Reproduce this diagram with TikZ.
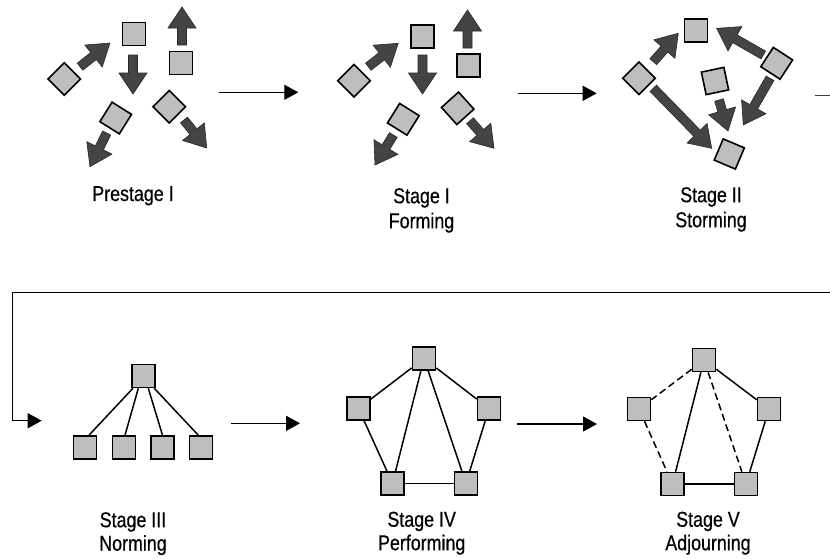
\documentclass[tikz,border=0pt]{standalone}
\usepackage{fontspec}
\setmainfont{Liberation Sans}[FakeStretch=0.83, FakeBold=0.5]
\usetikzlibrary{calc,arrows.meta}

\definecolor{boxgray}{HTML}{BEBEBE}
\definecolor{arrowgray}{HTML}{444444}

\tikzset{
  member/.style={draw=black, line width=1.6pt, fill=boxgray,
                 minimum size=23pt, inner sep=0pt},
  link/.style={line width=1.5pt},
  faded/.style={link, dash pattern=on 7pt off 4pt},
  flow/.style={line width=1.3pt, -{Triangle[length=14pt,width=15pt]}},
  stagelabel/.style={font=\fontsize{21.5}{25}\selectfont, align=center,
                     inner sep=0pt, anchor=north},
  lowlabel/.style={stagelabel, font=\fontsize{21.5}{23.5}\selectfont},
  pushfill/.style={fill=arrowgray, draw=black!85, line width=0.6pt},
}

% broad block arrow from tail point #1 to tip point #2
\newcommand\pusharrow[2]{%
  \coordinate (pa-s) at (#1);
  \coordinate (pa-t) at (#2);
  \coordinate (pa-h) at ($(pa-t)!21pt!(pa-s)$);
  \filldraw[pushfill]
    ($(pa-s)!4.5pt!90:(pa-t)$) -- ($(pa-h)!4.5pt!90:(pa-t)$)
    -- ($(pa-h)!14pt!90:(pa-t)$) -- (pa-t)
    -- ($(pa-h)!14pt!-90:(pa-t)$) -- ($(pa-h)!4.5pt!-90:(pa-t)$)
    -- ($(pa-s)!4.5pt!-90:(pa-t)$) -- cycle;
}

\begin{document}
\begin{tikzpicture}[x=1pt, y=-1pt]
\useasboundingbox (0,0) rectangle (830,558);

% ---------- Prestage I ----------
\node[member] (p1) at (134,34) {};
\node[member] (p2) at (181,63) {};
\node[member, rotate=45] (p3) at (64.3,79) {};
\node[member, rotate=-32] (p4) at (115.7,118) {};
\node[member, rotate=45] (p5) at (169.3,106.7) {};
\pusharrow{133,55}{133,94}
\pusharrow{182,45}{182,7}
\pusharrow{80,66.7}{110,43}
\pusharrow{106.7,133}{90,166.7}
\pusharrow{184,120}{206.7,148}
\node[stagelabel] (lp) at (133,186) {Prestage I};

% ---------- Stage I ----------
\node[member] (f1) at (422.5,36.5) {};
\node[member] (f2) at (468.5,65.5) {};
\node[member, rotate=45] (f3) at (354,80.7) {};
\node[member, rotate=-32] (f4) at (403.3,119.3) {};
\node[member, rotate=42] (f5) at (457.7,108.3) {};
\pusharrow{422.5,55}{422.5,94}
\pusharrow{467.5,48}{467.5,10}
\pusharrow{368.3,66.7}{398.3,43.3}
\pusharrow{393.3,135}{375,165}
\pusharrow{470,120.7}{494,148.3}
\node[stagelabel] (lf) at (421.5,188) {Stage I\\Forming};

% ---------- Stage II ----------
\node[member] (s1) at (696,30.5) {};
\node[member, rotate=45] (s2) at (639,78.3) {};
\node[member, rotate=-33] (s3) at (776.7,63.3) {};
\node[member, rotate=12] (s4) at (715,81) {};
\node[member, rotate=-23] (s5) at (729.3,154) {};
\pusharrow{653.3,61.7}{678.3,33.3}
\pusharrow{763.3,55}{716.7,28.3}
\pusharrow{719,100}{728,131}
\pusharrow{770,78.3}{743.3,125}
\pusharrow{653.3,88.3}{711.7,148.3}
\node[stagelabel] (ls) at (711,187) {Stage II\\Storming};

% ---------- flow between the top stages ----------
\coordinate (a1s) at (219.3,92.3);  \coordinate (a1e) at (298.3,92.3);
\coordinate (a2s) at (517.7,93.3);  \coordinate (a2e) at (596.7,93.3);
\coordinate (a3s) at (815,95.7);    \coordinate (a3e) at (830,95.7);
\draw[flow] (a1s) -- (a1e);
\draw[flow] (a2s) -- (a2e);
\draw[line width=1.3pt, black!75] (a3s) -- (a3e);

% return line into the second row
\coordinate (ret-a) at (830,292.7);
\coordinate (ret-b) at (12.3,292.7);
\coordinate (ret-c) at (12.3,420.7);
\coordinate (ret-d) at (41.7,420.7);
\draw[flow] (ret-a) -- (ret-b) -- (ret-c) -- (ret-d);

% ---------- Stage III ----------
\node[member] (n0) at (143.7,376) {};
\node[member] (n1) at (85,447.5) {};
\node[member] (n2) at (124,447.5) {};
\node[member] (n3) at (162.5,447.5) {};
\node[member] (n4) at (201,447.5) {};
\draw[link] ([xshift=1.5pt]n0.south west) -- ([xshift=4pt]n1.north);
\draw[link] ([xshift=-5.4pt]n0.south) -- ([xshift=1pt]n2.north);
\draw[link] ([xshift=4.6pt]n0.south) -- (n3.north);
\draw[link] ([xshift=-1.7pt]n0.south east) -- ([xshift=-2.7pt]n4.north);
\node[lowlabel] (ln) at (133,512) {Stage III\\Norming};

% ---------- Stage IV ----------
\node[member] (q0) at (424,358.5) {};
\node[member] (q1) at (358.5,408.5) {};
\node[member] (q2) at (489,408.5) {};
\node[member] (q3) at (392.5,483.3) {};
\node[member] (q4) at (466,483.3) {};
\draw[link] (q0) -- (q1);
\draw[link] (q0) -- (q2);
\draw[link] (q0) -- (q3);
\draw[link] (q0) -- (q4);
\draw[link] (q1) -- (q3);
\draw[link] (q2) -- (q4);
\draw[link] (q3) -- (q4);
\node[lowlabel] (lq) at (421.7,511.5) {Stage IV\\Performing};

% ---------- Stage V ----------
\node[member] (v0) at (704,360) {};
\node[member] (v1) at (639,409) {};
\node[member] (v2) at (769,409) {};
\node[member] (v3) at (672.5,484) {};
\node[member] (v4) at (746,484) {};
\draw[faded] (v0) -- (v1);
\draw[link] (v0) -- (v2);
\draw[link] (v0) -- (v3);
\draw[faded] (v0) -- (v4);
\draw[faded] (v1) -- (v3);
\draw[link] (v2) -- (v4);
\draw[link] (v3) -- (v4);
\node[lowlabel] (lv) at (708,511.5) {Stage V\\Adjourning};

% ---------- flow between the lower stages ----------
\coordinate (b1s) at (231,423.3);  \coordinate (b1e) at (300,423.3);
\coordinate (b2s) at (517,424);    \coordinate (b2e) at (597,424);
\draw[flow] (b1s) -- (b1e);
\draw[flow] (b2s) -- (b2e);
\end{tikzpicture}
\end{document}
